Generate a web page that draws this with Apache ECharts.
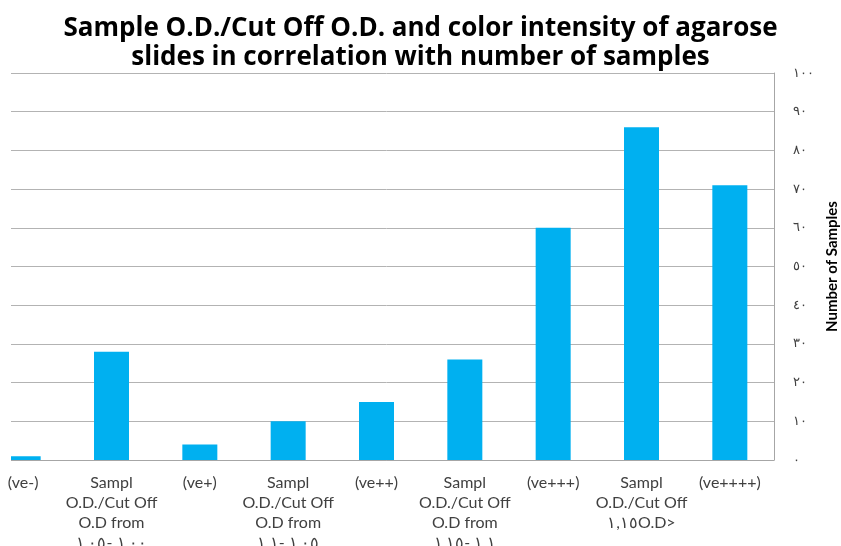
<!DOCTYPE html>
<html>
<head>
<meta charset="utf-8">
<script src="https://cdn.jsdelivr.net/npm/echarts@6/dist/echarts.min.js"></script>
<style>
  html, body { margin: 0; padding: 0; background: #fff; }
  #chart { width: 841px; height: 546px; }
</style>
</head>
<body>
<div id="chart"></div>
<script>
const chartTitle = 'Sample O.D./Cut Off O.D. and color intensity of agarose\nslides in correlation with number of samples'

const categories = [
  '(ve-)',
  'Sampl\nO.D./Cut Off\nO.D from\n\u202D١,٠٥- ١,٠٠\u202C',
  '(ve+)',
  'Sampl\nO.D./Cut Off\nO.D from\n\u202D١,١- ١,٠٥\u202C',
  '(ve++)',
  'Sampl\nO.D./Cut Off\nO.D from\n\u202D١,١٥- ١,١\u202C',
  '(ve+++)',
  'Sampl\nO.D./Cut Off\n\u202D١,١٥O.D>\u202C',
  '(ve++++)'
]

const sampleCounts = [1, 28, 4, 10, 15, 26, 60, 86, 71]

const yTickLabels = ['٠', '١٠', '٢٠', '٣٠', '٤٠', '٥٠', '٦٠', '٧٠', '٨٠', '٩٠', '١٠٠']

const chart = echarts.init(document.getElementById('chart'))

chart.setOption({
  animation: false,
  title: {
    text: chartTitle,
    left: 'center',
    top: 9,
    textStyle: {
      fontFamily: 'Open Sans',
      fontWeight: 'bold',
      fontSize: 26,
      lineHeight: 29,
      color: '#000'
    }
  },
  grid: {
    left: -21,
    right: 67,
    top: 73,
    bottom: 86,
    containLabel: false,
    outerBoundsMode: 'none'
  },
  xAxis: {
    type: 'category',
    data: categories,
    axisTick: { show: false },
    axisLine: { lineStyle: { color: '#a6a6a6', width: 1 } },
    axisLabel: {
      interval: 0,
      margin: 13,
      fontFamily: 'Lato',
      fontSize: 16,
      lineHeight: 20,
      color: '#404040'
    }
  },
  yAxis: {
    type: 'value',
    position: 'right',
    min: 0,
    max: 100,
    interval: 10,
    name: 'Number of Samples',
    nameLocation: 'middle',
    nameRotate: 90,
    nameGap: 50,
    nameTextStyle: {
      fontFamily: 'Lato',
      fontWeight: 'bold',
      fontSize: 15,
      color: '#000'
    },
    axisLine: { show: true, lineStyle: { color: '#a6a6a6', width: 1 } },
    axisTick: { show: false },
    splitLine: { lineStyle: { color: '#b3b3b3', width: 1 } },
    axisLabel: {
      margin: 19,
      fontSize: 13,
      color: '#404040',
      formatter: v => yTickLabels[Math.round(v / 10)]
    }
  },
  series: [{
    type: 'bar',
    data: sampleCounts,
    barWidth: 35,
    itemStyle: { color: '#00b0f0' }
  }],
  graphic: [{
    // the source image is cropped on the left; hide the plot part left of x=11
    type: 'rect',
    left: 0,
    top: 65,
    shape: { width: 11, height: 398 },
    style: { fill: '#fff' },
    z: 100
  }]
})
</script>
</body>
</html>
